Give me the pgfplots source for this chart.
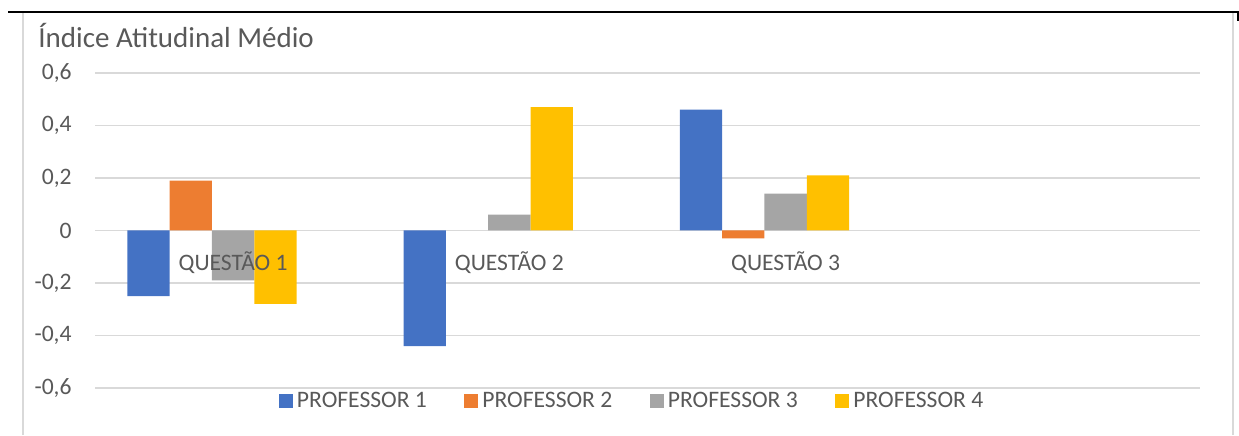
\documentclass[border=0pt]{standalone}
\usepackage{fontspec}
\setmainfont{Carlito}
\usepackage{pgfplots}
\pgfplotsset{compat=1.18}
\definecolor{c1}{HTML}{4472C4}
\definecolor{c2}{HTML}{ED7D31}
\definecolor{c3}{HTML}{A5A5A5}
\definecolor{c4}{HTML}{FFC000}
\definecolor{gridc}{HTML}{D9D9D9}
\definecolor{txt}{HTML}{595959}
\begin{document}
\begin{tikzpicture}[x=1pt,y=1pt]
\path[use as bounding box] (0,0) rectangle (619.5,217.5);
\draw[gridc, line width=0.75pt] (11.5,0) -- (11.5,211) (616.5,0) -- (616.5,211);
\draw[black, line width=1pt] (4,211.5) -- (619.5,211.5);
\draw[black, line width=1pt] (619,211.5) -- (619,207);
\node[anchor=base west, inner sep=0pt, text=txt, font=\fontsize{14.5}{17}\selectfont] at (19,193.5) {Índice Atitudinal Médio};
\begin{axis}[at={(47.5pt,23.5pt)}, anchor=south west, scale only axis,
 width=552.5pt, height=157.5pt,
 ymin=-0.6, ymax=0.6, xmin=-0.5, xmax=3.5,
 ytick={-0.6,-0.4,-0.2,0,0.2,0.4,0.6},
 yticklabels={{-0,6},{-0,4},{-0,2},{0},{0,2},{0,4},{0,6}},
 xtick=\empty,
 ymajorgrids, grid style={gridc, line width=0.75pt},
 axis line style={draw=none}, major tick length=0pt,
 yticklabel style={font=\fontsize{11.8}{14}\selectfont, text=txt, anchor=east, inner sep=0pt, xshift=-11.5pt},
 ybar, bar width=21.15pt,
 legend style={at={(0.487,0)}, anchor=center, yshift=-6.5pt, draw=none, fill=none,
   font=\fontsize{11.8}{14}\selectfont, text=txt,
   /tikz/every even column/.append style={column sep=16.75pt}},
 legend columns=4,
]
\addplot[fill=c1, draw=none, bar shift=-42.3pt,
  legend image code/.code={\fill[c1] (0pt,-3.5pt) rectangle (7pt,3.5pt);}]
  coordinates {(0,-0.25) (1,-0.44) (2,0.46)};
\addplot[fill=c2, draw=none, bar shift=-21.15pt,
  legend image code/.code={\fill[c2] (0pt,-3.5pt) rectangle (7pt,3.5pt);}]
  coordinates {(0,0.19) (2,-0.03)};
\addplot[fill=c3, draw=none, bar shift=0pt,
  legend image code/.code={\fill[c3] (0pt,-3.5pt) rectangle (7pt,3.5pt);}]
  coordinates {(0,-0.19) (1,0.06) (2,0.14)};
\addplot[fill=c4, draw=none, bar shift=21.15pt,
  legend image code/.code={\fill[c4] (0pt,-3.5pt) rectangle (7pt,3.5pt);}]
  coordinates {(0,-0.28) (1,0.47) (2,0.21)};
\legend{PROFESSOR 1, PROFESSOR 2, PROFESSOR 3, PROFESSOR 4}
\node[font=\fontsize{11.8}{14}\selectfont, text=txt, yshift=-16pt] at (axis cs:0,0) {QUESTÃO 1};
\node[font=\fontsize{11.8}{14}\selectfont, text=txt, yshift=-16pt] at (axis cs:1,0) {QUESTÃO 2};
\node[font=\fontsize{11.8}{14}\selectfont, text=txt, yshift=-16pt] at (axis cs:2,0) {QUESTÃO 3};
\end{axis}
\end{tikzpicture}
\end{document}
